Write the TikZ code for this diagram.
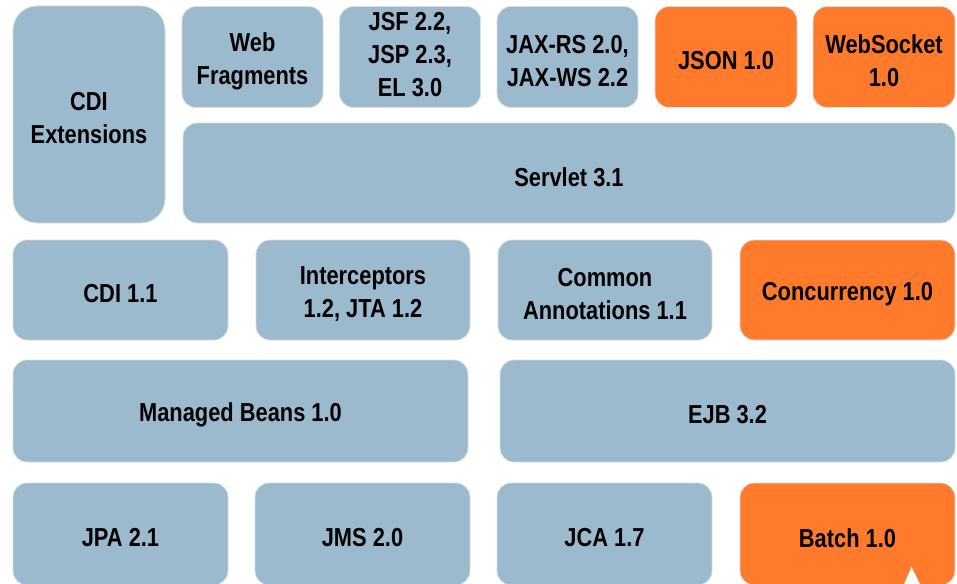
\documentclass[tikz,border=0pt]{standalone}
\usepackage{fontspec}
\setmainfont{Liberation Sans}[FakeStretch=0.84]
\definecolor{specblue}{RGB}{155,186,206}
\definecolor{neworange}{RGB}{255,122,42}
\definecolor{edgegray}{RGB}{220,222,224}
\begin{document}
\begin{tikzpicture}[x=1pt,y=-1pt,
  blk/.style={draw=edgegray, line width=0.8pt, fill=specblue, rounded corners=14pt,
    inner sep=0pt, align=center, text=black,
    font=\fontsize{26}{33}\selectfont\bfseries},
  hot/.style={blk, fill=neworange},
  sz/.style 2 args={minimum width=#1pt, minimum height=#2pt},
  txt/.style={label={[align=center, inner sep=0pt, yshift=-4pt,
    font=\fontsize{26}{33}\selectfont\bfseries]center:#1}},
  txtup/.style={label={[align=center, inner sep=0pt, yshift=2pt,
    font=\fontsize{26}{33}\selectfont\bfseries]center:#1}}]
\useasboundingbox (0,0) rectangle (957,583);
\clip (0,0) rectangle (957,583);
\fill[white] (0,0) rectangle (957,583);

% top row
\node[blk, rounded corners=24pt, sz={152}{217}, txt={CDI\\Extensions}] (cdiext) at (89,114.5) {};
\node[blk, sz={141}{101}, txt={Web\\Fragments}] (webfrag) at (252.5,57) {};
\node[blk, sz={141}{101}, txtup={JSF 2.2,\\JSP 2.3,\\EL 3.0}] (jsf) at (410,57) {};
\node[blk, sz={141}{101}, txt={JAX-RS 2.0,\\JAX-WS 2.2}] (jaxrs) at (567.5,57) {};
\node[hot, sz={142}{101}, txt={JSON 1.0}] (json) at (726,57) {};
\node[hot, sz={142}{101}, txt={WebSocket\\1.0}] (websocket) at (884,57) {};
\node[blk, sz={772}{100}, txt={Servlet 3.1}] (servlet) at (569,173) {};

% second row
\node[blk, sz={215}{100}, txt={CDI 1.1}] (cdi) at (120.5,290) {};
\node[blk, sz={214}{100}, txt={Interceptors\\1.2, JTA 1.2}] (interceptors) at (363,290) {};
\node[blk, sz={214}{100}, txt={Common\\Annotations 1.1}] (annotations) at (605,290) {};
\node[hot, sz={215}{100}, txt={Concurrency 1.0}] (concurrency) at (847.5,290) {};

% third row
\node[blk, sz={455}{102}, txt={Managed Beans 1.0}] (mbeans) at (240.5,411) {};
\node[blk, sz={455}{102}, txt={EJB 3.2}] (ejb) at (727.5,411) {};

% bottom row
\node[blk, sz={215}{102}, txt={JPA 2.1}] (jpa) at (120.5,534) {};
\node[blk, sz={215}{102}, txt={JMS 2.0}] (jms) at (362.5,534) {};
\node[blk, sz={215}{102}, txt={JCA 1.7}] (jca) at (604.5,534) {};
\node[hot, sz={215}{102}, txt={Batch 1.0}] (batch) at (847.5,534) {};

% small white pointer at the lower edge
\fill[white] (904,584) -- (911.5,567) -- (920,584) -- cycle;
\end{tikzpicture}
\end{document}
